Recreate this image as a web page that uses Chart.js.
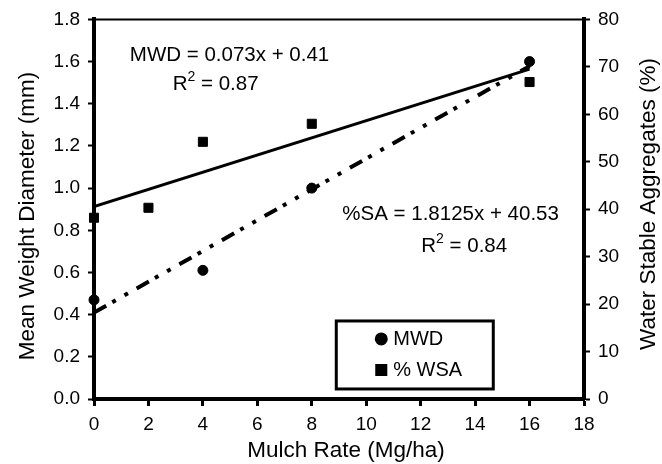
<!DOCTYPE html>
<html>
<head>
<meta charset="utf-8">
<script src="https://cdn.jsdelivr.net/npm/chart.js@4"></script>
<style>
  body { margin: 0; background: #fff; }
</style>
</head>
<body>
<canvas id="myChart" width="662" height="464"></canvas>
<script>
// values
const mwdRate = [0, 4, 8, 16];
const mwdValues = [0.47, 0.61, 1.0, 1.6];
const wsaRate = [0, 2, 4, 8, 16];
const wsaValues = [38.2, 40.3, 54.2, 58.0, 66.8];

// trend line end points (x = 0 and x = 16)
const fitRate = [0, 16];
const mwdFit = [0.41, 1.578];
const wsaFit = [40.53, 69.53];

const FONT = '"Liberation Sans", Arial, sans-serif';

function pts(xs, ys) {
  return xs.map((x, i) => ({ x: x, y: ys[i] }));
}

// text with R² style superscript
function drawR2(ctx, txt, cx, cy, size) {
  const small = Math.round(size * 0.68);
  ctx.font = size + 'px ' + FONT;
  const wR = ctx.measureText('R').width;
  const wRest = ctx.measureText(txt).width;
  ctx.font = small + 'px ' + FONT;
  const w2 = ctx.measureText('2').width;
  let x = cx - (wR + w2 + wRest) / 2;
  ctx.textAlign = 'left';
  ctx.textBaseline = 'middle';
  ctx.fillText('2', x + wR, cy - size * 0.35);
  ctx.font = size + 'px ' + FONT;
  ctx.fillText('R', x, cy);
  ctx.fillText(txt, x + wR + w2, cy);
}

function vText(ctx, txt, x, y) {
  ctx.save();
  ctx.translate(x, y);
  ctx.rotate(-Math.PI / 2);
  ctx.fillText(txt, 0, 0);
  ctx.restore();
}

const extras = {
  id: 'extras',
  afterDraw(chart) {
    const ctx = chart.ctx;
    const a = chart.chartArea;
    const sx = chart.scales.x, sy = chart.scales.y;
    ctx.save();
    // top frame line
    ctx.strokeStyle = '#000';
    ctx.lineWidth = 2;
    ctx.beginPath();
    ctx.moveTo(a.left - 2, a.top);
    ctx.lineTo(a.right + 2, a.top);
    ctx.stroke();

    // equations
    ctx.fillStyle = '#000';
    ctx.textAlign = 'center';
    ctx.textBaseline = 'middle';
    ctx.font = '20.5px ' + FONT;
    ctx.fillText('MWD = 0.073x + 0.41', sx.getPixelForValue(4.98), sy.getPixelForValue(1.63));
    drawR2(ctx, ' = 0.87', sx.getPixelForValue(4.47), sy.getPixelForValue(1.49), 20.5);
    ctx.textAlign = 'center';
    ctx.font = '20.5px ' + FONT;
    ctx.fillText('%SA = 1.8125x + 40.53', sx.getPixelForValue(13.1), sy.getPixelForValue(0.877));
    drawR2(ctx, ' = 0.84', sx.getPixelForValue(13.6), sy.getPixelForValue(0.726), 20.5);

    // axis titles
    ctx.textAlign = 'center';
    ctx.textBaseline = 'middle';
    ctx.font = '22.5px ' + FONT;
    ctx.fillText('Mulch Rate (Mg/ha)', 346, 451);
    vText(ctx, 'Mean Weight Diameter (mm)', 28, 216);
    vText(ctx, 'Water Stable Aggregates (%)', 649, 204);

    // legend box
    const lx = sx.getPixelForValue(8.9), ly = sy.getPixelForValue(0.37);
    const lw = 157, lh = 68;
    ctx.lineWidth = 3;
    ctx.strokeRect(lx, ly, lw, lh);
    ctx.font = '20px ' + FONT;
    ctx.textAlign = 'left';
    ctx.textBaseline = 'middle';
    Chart.helpers.drawPoint(ctx, { pointStyle: 'circle', radius: 5, rotation: 0, borderWidth: 1 }, lx + 45, ly + 18);
    ctx.fillText('MWD', lx + 57, ly + 19);
    Chart.helpers.drawPoint(ctx, { pointStyle: 'rect', radius: 6.4, rotation: 0, borderWidth: 1 }, lx + 45, ly + 49);
    ctx.fillText('% WSA', lx + 57, ly + 50);
    ctx.restore();
  }
};

const chrt = document.getElementById('myChart').getContext('2d');
const myChart = new Chart(chrt, {
  type: 'scatter',
  data: {
    datasets: [{
      label: 'MWD',
      data: pts(mwdRate, mwdValues),
      yAxisID: 'y',
      pointStyle: 'circle',
      pointRadius: 5,
      backgroundColor: '#000',
      borderColor: '#000',
      clip: false
    }, {
      label: '% WSA',
      data: pts(wsaRate, wsaValues),
      yAxisID: 'y2',
      pointStyle: 'rect',
      pointRadius: 6.4,
      backgroundColor: '#000',
      borderColor: '#000',
      clip: false
    }, {
      label: 'MWD fit',
      data: pts(fitRate, mwdFit),
      yAxisID: 'y',
      showLine: true,
      pointRadius: 0,
      borderColor: '#000',
      borderWidth: 4,
      borderDash: [14, 7, 4, 10, 4, 10]
    }, {
      label: 'WSA fit',
      data: pts(fitRate, wsaFit),
      yAxisID: 'y2',
      showLine: true,
      pointRadius: 0,
      borderColor: '#000',
      borderWidth: 3
    }]
  },
  options: {
    responsive: false,
    animation: false,
    layout: { padding: { top: 17, left: 0, right: 0, bottom: 0 } },
    plugins: {
      legend: { display: false },
      tooltip: { enabled: false }
    },
    scales: {
      x: {
        type: 'linear',
        min: 0,
        max: 18,
        ticks: { stepSize: 2, color: '#000', font: { family: FONT, size: 19 }, padding: 7, maxRotation: 0 },
        grid: { drawOnChartArea: false, drawTicks: true, tickLength: 7, tickWidth: 3, tickColor: '#000' },
        border: { color: '#000', width: 4 },
        afterFit: (s) => { s.height = 65; }
      },
      y: {
        position: 'left',
        min: 0,
        max: 1.8,
        ticks: { stepSize: 0.2, color: '#000', font: { family: FONT, size: 19 }, padding: 8, callback: (v) => v.toFixed(1) },
        grid: { drawOnChartArea: false, drawTicks: true, tickLength: 6, tickWidth: 2, tickColor: '#000' },
        border: { color: '#000', width: 4 },
        afterFit: (s) => { s.width = 94; }
      },
      y2: {
        position: 'right',
        min: 0,
        max: 80,
        ticks: { stepSize: 10, color: '#000', font: { family: FONT, size: 19 }, padding: 8 },
        grid: { drawOnChartArea: false, drawTicks: true, tickLength: 6, tickWidth: 2, tickColor: '#000' },
        border: { color: '#000', width: 4 },
        afterFit: (s) => { s.width = 78; }
      }
    }
  },
  plugins: [extras]
});
</script>
</body>
</html>
